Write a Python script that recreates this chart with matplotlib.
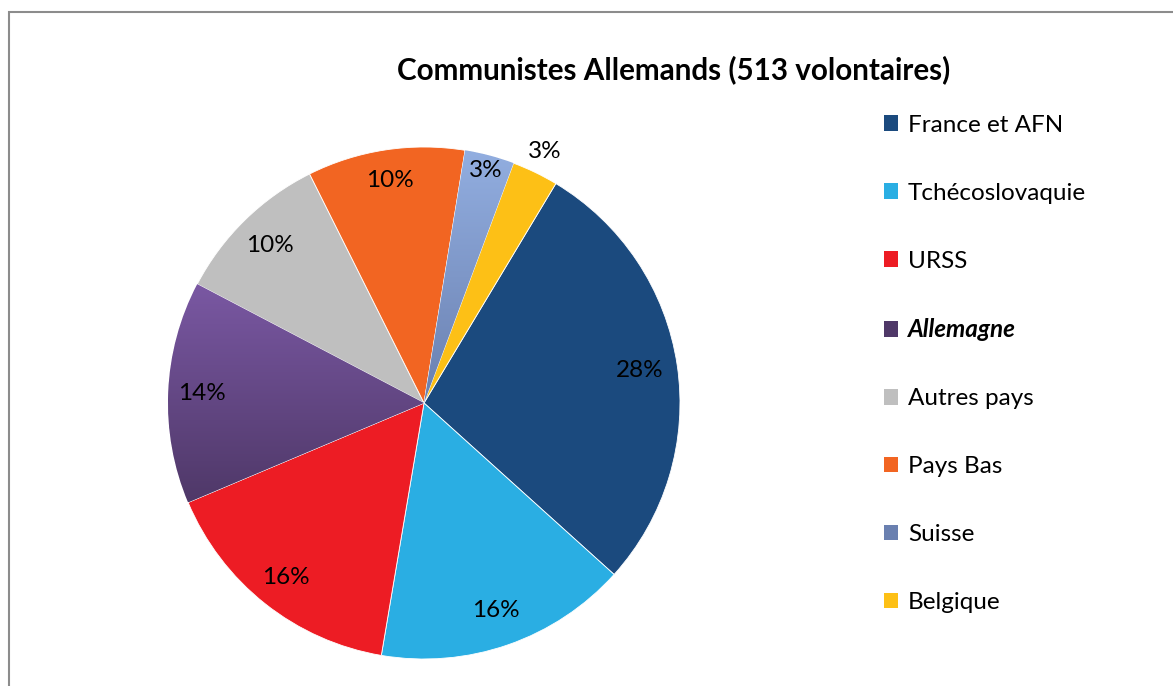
"""Pie chart: origin of German communist volunteers."""

import matplotlib

matplotlib.use("Agg")
import matplotlib.pyplot as plt
import numpy as np
from matplotlib.colors import LinearSegmentedColormap
from matplotlib.patches import Patch, Rectangle

plt.rcParams["font.family"] = ["Lato", "DejaVu Sans"]

TITLE = "Communistes Allemands (513 volontaires)"
countries = [
    "France et AFN",
    "Tchécoslovaquie",
    "URSS",
    "Allemagne",
    "Autres pays",
    "Pays Bas",
    "Suisse",
    "Belgique",
]
volunteers = [144, 82, 82, 72, 51, 51, 16, 15]
colors = [
    "#1b4a7e",
    "#2aaee3",
    "#ed1c24",
    "#664789",
    "#bfbfbf",
    "#f26522",
    "#7f9bcf",
    "#fdc016",
]
# gradient fills (top colour, bottom colour) for two slices
gradients = {
    "Allemagne": ("#7a58a3", "#4f3868"),
    "Suisse": ("#92aee0", "#6a80b0"),
}
# radial position of each percentage label, as a fraction of the radius
label_radius = [0.85, 0.86, 0.87, 0.87, 0.86, 0.88, 0.94, 1.09]

W, H = 1173, 686
fig = plt.figure(figsize=(W / 100, H / 100), dpi=100)
ax = fig.add_axes([0, 0, 1, 1])

cx, cy, r = 424, H - 403, 256
wedges, _ = ax.pie(
    volunteers,
    colors=colors,
    startangle=59,
    counterclock=False,
    center=(cx, cy),
    radius=r,
    wedgeprops={"linewidth": 0.6, "edgecolor": "white"},
)
ax.set_xlim(0, W)
ax.set_ylim(0, H)
ax.set_aspect("equal")
ax.axis("off")

for name, wedge in zip(countries, wedges):
    if name not in gradients:
        continue
    top, bottom = gradients[name]
    cmap = LinearSegmentedColormap.from_list(name, [bottom, top])
    bb = wedge.get_path().get_extents(wedge.get_transform())
    inv = ax.transData.inverted()
    (x0, y0), (x1, y1) = inv.transform([[bb.x0, bb.y0], [bb.x1, bb.y1]])
    grad = np.linspace(0, 1, 256).reshape(-1, 1)
    img = ax.imshow(
        grad,
        cmap=cmap,
        origin="lower",
        extent=(x0, x1, y0, y1),
        aspect="auto",
        zorder=wedge.get_zorder() + 0.1,
    )
    img.set_clip_path(wedge)

total = sum(volunteers)
for wedge, value, dist in zip(wedges, volunteers, label_radius):
    mid = np.deg2rad((wedge.theta1 + wedge.theta2) / 2)
    ax.text(
        cx + dist * r * np.cos(mid),
        cy + dist * r * np.sin(mid),
        f"{round(value / total * 100)}%",
        ha="center",
        va="center",
        fontsize=17.5,
        zorder=5,
    )

ax.text(674, H - 70, TITLE, ha="center", va="center", fontsize=21.3, fontweight="bold")

handles = [Patch(facecolor=c, edgecolor="none") for c in colors]
for name, handle in zip(countries, handles):
    if name in gradients:
        handle.set_facecolor(gradients[name][1])
leg = fig.legend(
    handles,
    countries,
    loc="upper left",
    bbox_to_anchor=(874 / W, 1 - 105 / H),
    frameon=False,
    fontsize=17.5,
    handlelength=0.6,
    handleheight=0.6,
    handletextpad=0.4,
    labelspacing=1.93,
    borderaxespad=0,
)
leg.get_texts()[3].set_fontweight("bold")
leg.get_texts()[3].set_fontstyle("italic")

# chart border (only left and top edges are visible in the crop)
fig.patches.append(
    Rectangle(
        (8.5 / W, -0.1),
        1.2,
        1.1 - 12.5 / H,
        transform=fig.transFigure,
        fill=False,
        edgecolor="#8c8c8c",
        linewidth=1.5,
    )
)

fig.savefig("out.png", dpi=100)
